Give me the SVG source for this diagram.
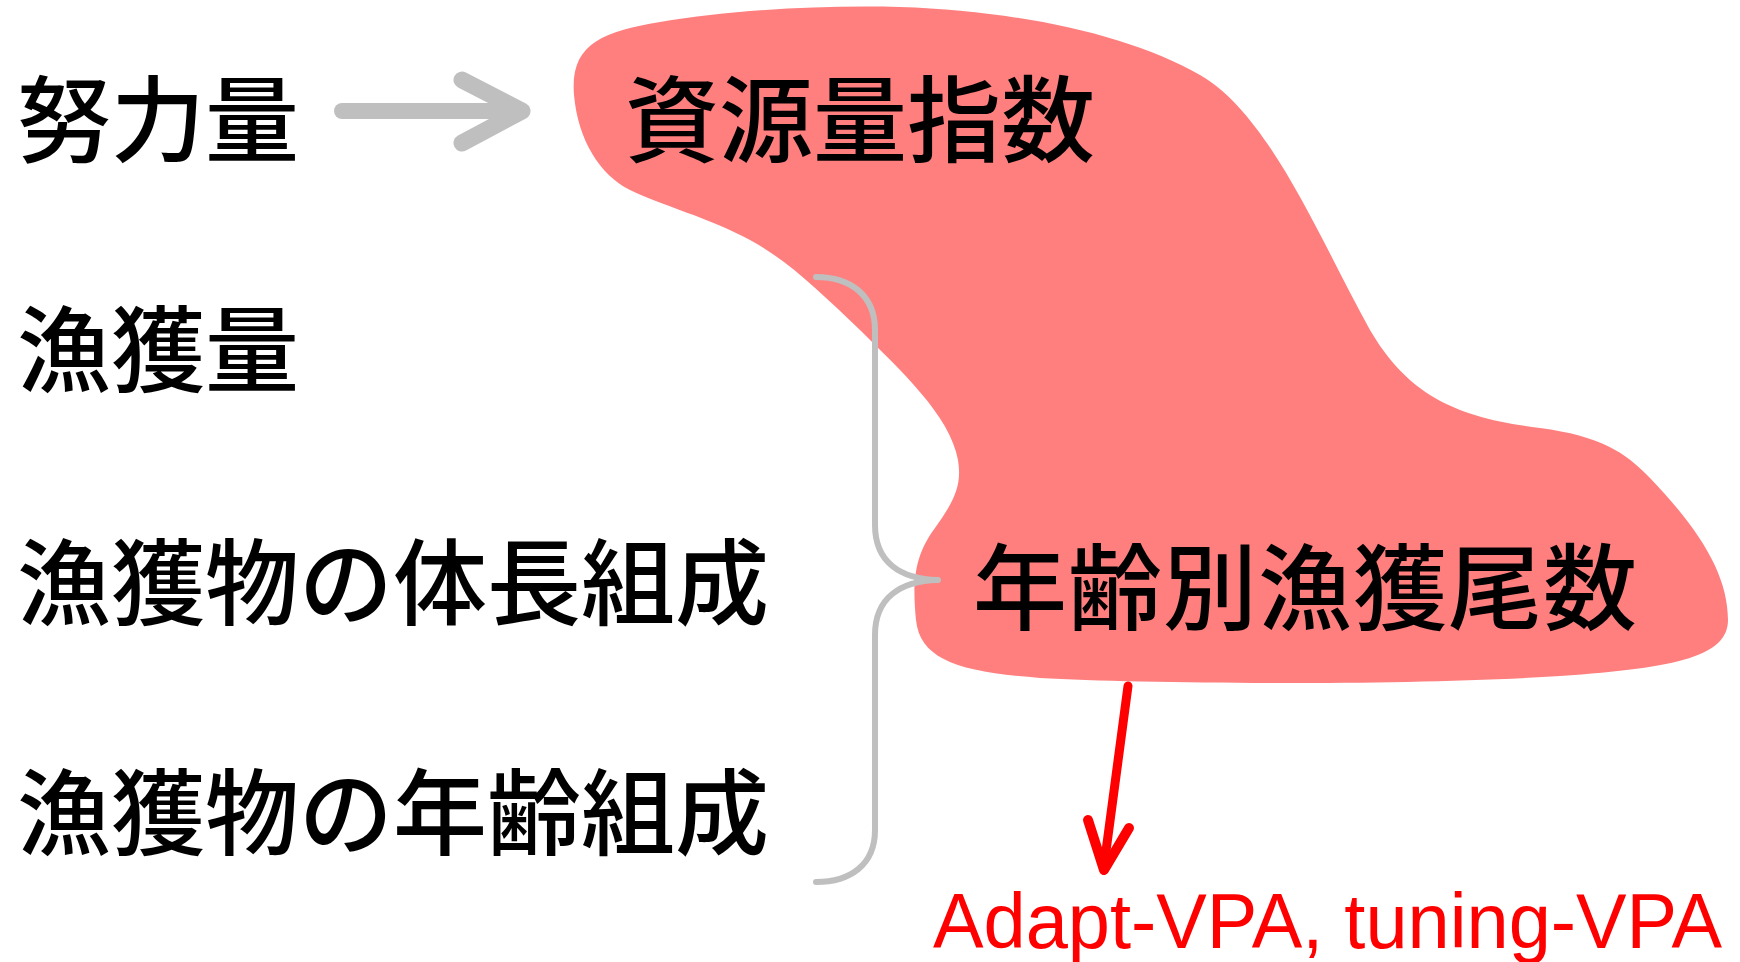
<svg xmlns="http://www.w3.org/2000/svg" width="1740" height="962" viewBox="0 0 1740 962">
<style>
.jp{font-family:"Noto Sans CJK JP","Noto Sans CJK SC",sans-serif;font-size:94px;font-weight:500;fill:#000}
.red{font-family:"Liberation Sans",Arial,sans-serif;font-size:77px;fill:#FF0000}
.gray{fill:none;stroke:#BFBFBF;stroke-linecap:round;stroke-linejoin:round}
.redl{fill:none;stroke:#FF0000;stroke-linecap:round;stroke-linejoin:round}
</style>
<rect width="1740" height="962" fill="#FFFFFF"/>
<g id="blob">
<path fill="#FF7F7F" d="M574,95 C570,45 600,32 660,22 C730,10 820,5 900,7 C1020,11 1130,35 1200,75 C1270,115 1320,240 1370,330 C1410,398 1460,418 1540,428 C1600,436 1625,452 1650,478 C1700,530 1728,575 1728,620 C1728,655 1680,668 1560,676 C1400,686 1150,684 1040,678 C960,672 920,660 916,620 C912,580 915,555 935,528 C955,500 962,485 958,460 C950,415 900,370 860,330 C820,292 790,262 750,240 C710,218 660,205 630,190 C600,175 578,140 574,95 Z"/>
</g>
<g id="connectors">
<g id="effort-arrow">
<line class="gray" x1="342" y1="111" x2="520" y2="111" stroke-width="16" stroke-linecap="butt"/>
<polyline class="gray" points="462,80 522,111 462,143" stroke-width="17"/>
</g>
<path id="brace" class="gray" stroke-width="6" d="M816,277 C850,277 875,295 875,330 L875,525 C875,562 900,579 938,580 C900,581 875,598 875,635 L875,830 C875,865 850,882 816,882"/>
<g id="red-arrow">
<line class="redl" x1="1128" y1="686" x2="1104" y2="866" stroke-width="9"/>
<polyline class="redl" points="1088,820 1104,870 1129,828" stroke-width="10"/>
</g>
</g>
<g id="node-effort"><text class="jp" x="17" y="155">努力量</text></g>
<g id="node-catch"><text class="jp" x="17" y="385">漁獲量</text></g>
<g id="node-length"><text class="jp" x="17" y="618">漁獲物の体長組成</text></g>
<g id="node-age"><text class="jp" x="17" y="848">漁獲物の年齢組成</text></g>
<g id="node-index"><text class="jp" x="625" y="155">資源量指数</text></g>
<g id="node-caa"><text class="jp" x="973" y="623" textLength="664">年齢別漁獲尾数</text></g>
<g id="node-vpa"><text class="red" x="933" y="948" textLength="789" lengthAdjust="spacingAndGlyphs">Adapt-VPA, tuning-VPA</text></g>
</svg>
